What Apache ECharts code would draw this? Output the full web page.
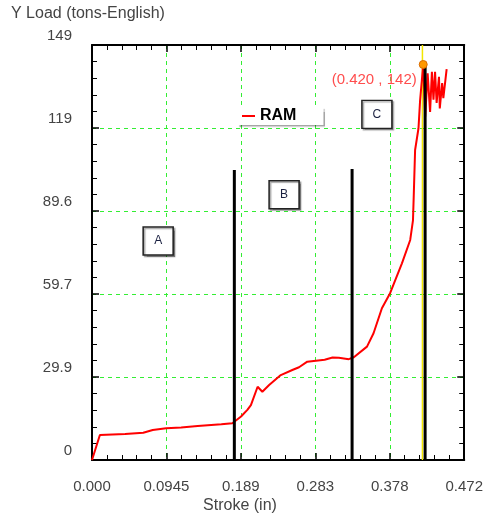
<!DOCTYPE html>
<html>
<head>
<meta charset="utf-8">
<script src="https://cdn.jsdelivr.net/npm/echarts@6/dist/echarts.min.js"></script>
<style>
  html, body { margin: 0; padding: 0; background: #fff; }
  #chart { width: 486px; height: 518px; }
</style>
</head>
<body>
<div id="chart"></div>
<script>
// axis ticks
const xTickLabels = ['0.000', '0.0945', '0.189', '0.283', '0.378', '0.472'];
const yTickLabels = ['0', '29.9', '59.7', '89.6', '119', '149'];
const xStep = 0.0944;
const yStep = 29.8;

// RAM curve
const stroke = [0, 0.010, 0.042, 0.065, 0.077, 0.094, 0.113, 0.134, 0.164, 0.178,
  0.189, 0.197, 0.2015, 0.210, 0.216, 0.2246, 0.2394, 0.254, 0.2625, 0.273,
  0.275, 0.295, 0.305, 0.313, 0.3256, 0.332, 0.3487, 0.357, 0.3676, 0.378,
  0.393, 0.4035, 0.407, 0.408, 0.4097, 0.414, 0.416, 0.420, 0.4225, 0.4256,
  0.4287, 0.431, 0.433, 0.435, 0.437, 0.440, 0.441, 0.444, 0.4455, 0.4497];
const load = [0, 9.0, 9.3, 9.8, 10.8, 11.4, 11.7, 12.2, 12.8, 13.2,
  15.6, 18.0, 19.7, 26.3, 24.5, 26.9, 30.5, 32.3, 33.3, 35.3,
  35.7, 36.0, 36.8, 36.7, 36.2, 36.9, 40.7, 45.5, 54.5, 59.9,
  70.6, 79.0, 86.0, 95.0, 111.3, 119.1, 129.0, 142.0, 123.3, 138.8,
  125.0, 139.4, 129.4, 139.4, 128.2, 137.6, 126.2, 135.3, 129.9, 140.3];

// phase separators, cursor and peak
const phaseX = [0.1805, 0.3298, 0.4224];
const phaseTop = [104.1, 104.5, 141.2];
const cursorX = 0.419;
const peak = [0.420, 142];

// A / B / C boxes
const boxNames = ['A', 'B', 'C'];
const boxX = [0.0839, 0.2436, 0.3613];
const boxY = [78.6, 95.2, 124.1];

const FONT = 'Liberation Sans, Arial, sans-serif';
const GREEN = '#33ee33';

const chart = echarts.init(document.getElementById('chart'), null, { renderer: 'canvas' });

function frameAxis(pos, min, max, step) {
  return {
    type: 'value', position: pos, min: min, max: max, interval: step,
    axisLine: { show: true, onZero: false, lineStyle: { color: '#000', width: 2 } },
    axisTick: { show: true, inside: true, length: 7, lineStyle: { color: '#000', width: 1.5 } },
    minorTick: { show: true, splitNumber: 5, length: 5, lineStyle: { color: '#000', width: 1 } },
    axisLabel: { show: false },
    splitLine: { show: false }
  };
}

const xMain = frameAxis('bottom', 0, 0.472, xStep);
xMain.axisLabel = {
  show: true, margin: 19, color: '#444', fontSize: 15, fontFamily: FONT,
  showMinLabel: true, showMaxLabel: true,
  formatter: v => xTickLabels[Math.round(v / xStep)]
};
xMain.splitLine = { show: true, lineStyle: { color: GREEN, width: 1, type: [4, 4] } };

const yMain = frameAxis('left', 0, 149, yStep);
yMain.axisLabel = {
  show: true, margin: 20, color: '#444', fontSize: 15, fontFamily: FONT,
  verticalAlign: 'bottom', padding: [0, 0, 2, 0],
  showMinLabel: true, showMaxLabel: true,
  formatter: v => yTickLabels[Math.round(v / yStep)]
};
yMain.splitLine = { show: true, lineStyle: { color: GREEN, width: 1, type: [4, 4] } };

const series = [
  {
    name: 'cursor', type: 'line', showSymbol: false, silent: true, z: 2,
    data: [[cursorX, 0], [cursorX, 149]],
    lineStyle: { color: '#f2e600', width: 1.5 }
  },
  {
    name: 'RAM', type: 'line', showSymbol: false, z: 3,
    data: stroke.map((s, i) => [s, load[i]]),
    lineStyle: { color: '#ff0000', width: 2 },
    itemStyle: { color: '#ff0000' }
  }
];

phaseX.forEach((x, i) => {
  series.push({
    name: 'phase' + i, type: 'line', showSymbol: false, silent: true, z: 4,
    data: [[x, 0], [x, phaseTop[i]]],
    lineStyle: { color: '#000', width: 3 }
  });
});

series.push({
  name: 'peak', type: 'scatter', z: 6,
  data: [peak],
  symbolSize: 8,
  itemStyle: { color: '#ff9900', borderColor: '#d96b00', borderWidth: 1, opacity: 1 },
  label: {
    show: true, position: 'left', distance: 2, offset: [0, 15],
    color: '#ff4d4d', fontSize: 15, fontFamily: FONT,
    formatter: p => '(' + p.value[0].toFixed(3) + ' , ' + p.value[1] + ')'
  }
});

series.push({
  name: 'boxes', type: 'scatter', z: 5,
  symbol: 'rect', symbolSize: [30, 28],
  data: boxNames.map((n, i) => ({ name: n, value: [boxX[i], boxY[i]] })),
  itemStyle: {
    color: '#fff', borderColor: '#222', borderWidth: 1.5, opacity: 1,
    shadowColor: 'rgba(0,0,0,0.35)', shadowBlur: 1, shadowOffsetX: 1.5, shadowOffsetY: 1.5
  },
  label: {
    show: true, position: 'inside', formatter: '{b}',
    color: '#1a2040', fontSize: 12, fontFamily: FONT
  }
});

chart.setOption({
  animation: false,
  backgroundColor: '#fff',
  grid: { left: 92, top: 45, width: 374, height: 415, containLabel: false },
  xAxis: [xMain, frameAxis('top', 0, 0.472, xStep)],
  yAxis: [yMain, frameAxis('right', 0, 149, yStep)],
  legend: {
    data: ['RAM'], left: 237, top: 107,
    icon: 'rect', itemWidth: 13, itemHeight: 2,
    padding: [1, 27, 1, 5],
    backgroundColor: '#fff',
    shadowColor: 'rgba(0,0,0,0.35)', shadowBlur: 1, shadowOffsetX: 2, shadowOffsetY: 2,
    textStyle: { color: '#000', fontSize: 16, fontWeight: 'bold', fontFamily: FONT }
  },
  graphic: [
    {
      type: 'text', left: 11, top: 6,
      style: { text: 'Y Load (tons-English)', fill: '#444', fontSize: 16, fontFamily: FONT }
    },
    {
      type: 'text', x: 240, y: 506,
      style: {
        text: 'Stroke (in)', fill: '#444', fontSize: 16, fontFamily: FONT,
        align: 'center', verticalAlign: 'middle'
      }
    }
  ],
  series: series
});
</script>
</body>
</html>
